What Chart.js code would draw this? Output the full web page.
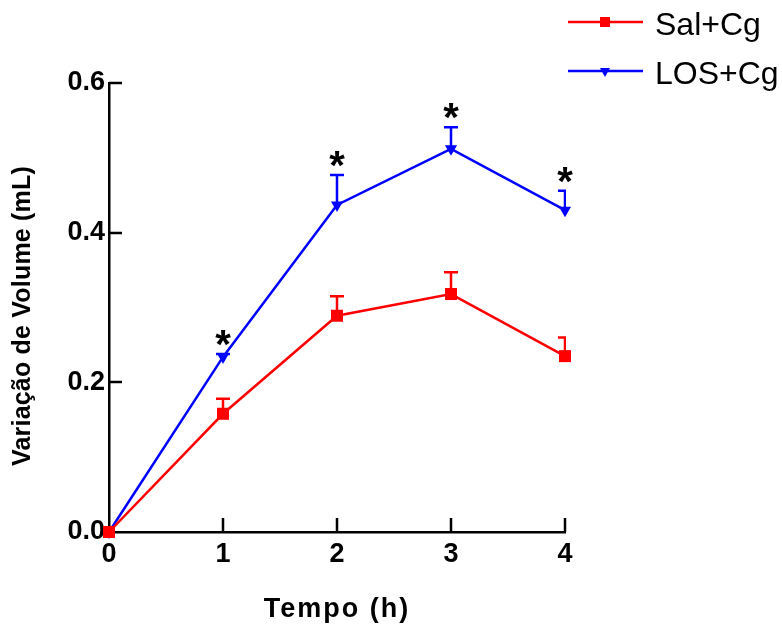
<!DOCTYPE html>
<html>
<head>
<meta charset="utf-8">
<script src="https://cdn.jsdelivr.net/npm/chart.js@4.4.1/dist/chart.umd.min.js"></script>
<style>
  html, body { margin: 0; padding: 0; background: #fff; }
  #wrap { width: 782px; height: 628px; position: relative; }
</style>
</head>
<body>
<div id="wrap"><canvas id="chart"></canvas></div>
<script>
// Time points (h)
const hours = [0, 1, 2, 3, 4];
// Paw volume change (mL): mean and upper SEM
const salMean = [0, 0.158, 0.289, 0.318, 0.235];
const salErr  = [0, 0.020, 0.026, 0.029, 0.025];
const losMean = [0, 0.234, 0.437, 0.512, 0.430];
const losErr  = [0, 0.004, 0.040, 0.029, 0.026];
// Significance marks (LOS+Cg vs Sal+Cg)
const signif = [false, true, true, true, true];
// Axis ticks
const xTicks = [0, 1, 2, 3, 4];
const yTicks = [0.0, 0.2, 0.4, 0.6];
const seriesNames = ['Sal+Cg', 'LOS+Cg'];

const RED = '#ff0000';
const BLUE = '#0000ff';
const FONT = '"Liberation Sans", Arial, Helvetica, sans-serif';

const errorBars = [
  { mean: salMean, err: salErr, color: RED },
  { mean: losMean, err: losErr, color: BLUE }
];

const decorations = {
  id: 'decorations',
  beforeDatasetsDraw(chart) {
    const { ctx, chartArea, scales: { x, y } } = chart;
    ctx.save();
    ctx.beginPath();
    ctx.rect(0, 0, chartArea.right + 1, chart.height);
    ctx.clip();
    ctx.lineWidth = 2.5;
    errorBars.forEach(s => {
      ctx.strokeStyle = s.color;
      hours.forEach((h, i) => {
        if (!s.err[i]) return;
        const px = x.getPixelForValue(h);
        const py = y.getPixelForValue(s.mean[i]);
        const pt = y.getPixelForValue(s.mean[i] + s.err[i]);
        ctx.beginPath();
        ctx.moveTo(px, py);
        ctx.lineTo(px, pt);
        ctx.moveTo(px - 7, pt);
        ctx.lineTo(px + 7, pt);
        ctx.stroke();
      });
    });
    ctx.restore();
  },
  afterDatasetsDraw(chart) {
    const { ctx, chartArea, scales: { x, y } } = chart;
    ctx.save();
    // inward tick marks
    ctx.strokeStyle = '#000';
    ctx.lineWidth = 2.5;
    ctx.beginPath();
    yTicks.forEach(v => {
      if (v === 0) return;
      const py = Math.round(y.getPixelForValue(v));
      ctx.moveTo(chartArea.left, py);
      ctx.lineTo(chartArea.left + 13, py);
    });
    xTicks.forEach(v => {
      if (v === 0) return;
      const px = Math.round(x.getPixelForValue(v));
      ctx.moveTo(px, chartArea.bottom);
      ctx.lineTo(px, chartArea.bottom - 14);
    });
    ctx.stroke();

    // significance asterisks
    ctx.fillStyle = '#000';
    ctx.font = 'bold 40px ' + FONT;
    ctx.textAlign = 'center';
    ctx.textBaseline = 'alphabetic';
    const m = ctx.measureText('*');
    const mid = (m.actualBoundingBoxAscent - m.actualBoundingBoxDescent) / 2;
    hours.forEach((h, i) => {
      if (!signif[i]) return;
      const px = x.getPixelForValue(h);
      const top = y.getPixelForValue(losMean[i] + losErr[i]);
      ctx.fillText('*', px, top - 16 + mid);
    });
    ctx.restore();
  },
  afterDraw(chart) {
    const { ctx, chartArea } = chart;
    ctx.save();
    ctx.fillStyle = '#000';
    // axis titles
    ctx.font = 'bold 27px ' + FONT;
    ctx.textAlign = 'center';
    ctx.textBaseline = 'alphabetic';
    ctx.letterSpacing = '2px';
    ctx.fillText('Tempo (h)', (chartArea.left + chartArea.right) / 2, 617);
    ctx.translate(30, 316);
    ctx.rotate(-Math.PI / 2);
    ctx.font = 'bold 25px ' + FONT;
    ctx.letterSpacing = '0.2px';
    ctx.fillText('Variação de Volume (mL)', 0, 0);
    ctx.restore();

    // legend
    ctx.save();
    ctx.letterSpacing = '0px';
    ctx.lineWidth = 2.5;
    const rows = [
      { y: 22, color: RED, shape: 'rect' },
      { y: 71, color: BLUE, shape: 'tri' }
    ];
    rows.forEach((r, i) => {
      ctx.strokeStyle = r.color;
      ctx.fillStyle = r.color;
      ctx.beginPath();
      ctx.moveTo(568, r.y);
      ctx.lineTo(643, r.y);
      ctx.stroke();
      if (r.shape === 'rect') {
        ctx.fillRect(605 - 5, r.y - 5, 10, 10);
      } else {
        ctx.beginPath();
        ctx.moveTo(600, r.y - 3);
        ctx.lineTo(610, r.y - 3);
        ctx.lineTo(605, r.y + 6);
        ctx.closePath();
        ctx.fill();
      }
      ctx.fillStyle = '#000';
      ctx.font = '32px ' + FONT;
      ctx.textAlign = 'left';
      ctx.textBaseline = 'alphabetic';
      ctx.fillText(seriesNames[i], 655, r.y + 13);
    });
    ctx.restore();
  }
};

const toPoints = arr => hours.map((h, i) => ({ x: h, y: arr[i] }));

new Chart(document.getElementById('chart'), {
  type: 'line',
  data: {
    datasets: [
      {
        label: seriesNames[0],
        data: toPoints(salMean),
        borderColor: RED,
        backgroundColor: RED,
        borderWidth: 2.5,
        pointStyle: 'rect',
        pointRadius: 8.5,
        pointBorderWidth: 0,
        pointHoverRadius: 8.5,
        tension: 0,
        clip: false
      },
      {
        label: seriesNames[1],
        data: toPoints(losMean),
        borderColor: BLUE,
        backgroundColor: BLUE,
        borderWidth: 2.5,
        pointStyle: 'triangle',
        rotation: 180,
        pointRadius: 7,
        pointBorderWidth: 0,
        pointHoverRadius: 7,
        tension: 0,
        clip: false
      }
    ]
  },
  options: {
    responsive: true,
    maintainAspectRatio: false,
    animation: false,
    events: [],
    layout: { padding: { left: 0, top: 83, right: 217, bottom: 0 } },
    plugins: { legend: { display: false }, tooltip: { enabled: false } },
    scales: {
      x: {
        type: 'linear',
        min: 0,
        max: 4,
        afterFit(scale) { scale.height = 96; },
        afterBuildTicks(scale) { scale.ticks = xTicks.map(v => ({ value: v })); },
        grid: { display: false, drawTicks: false },
        border: { display: true, color: '#000', width: 2.5 },
        ticks: {
          color: '#000',
          padding: 6,
          font: { family: FONT, size: 27, weight: 'bold' },
          callback: v => String(v)
        }
      },
      y: {
        min: 0,
        max: 0.6,
        afterFit(scale) { scale.width = 109; },
        afterBuildTicks(scale) { scale.ticks = yTicks.map(v => ({ value: v })); },
        grid: { display: false, drawTicks: false },
        border: { display: true, color: '#000', width: 2.5 },
        ticks: {
          color: '#000',
          padding: 4,
          font: { family: FONT, size: 27, weight: 'bold' },
          callback: v => Number(v).toFixed(1)
        }
      }
    }
  },
  plugins: [decorations]
});
</script>
</body>
</html>
